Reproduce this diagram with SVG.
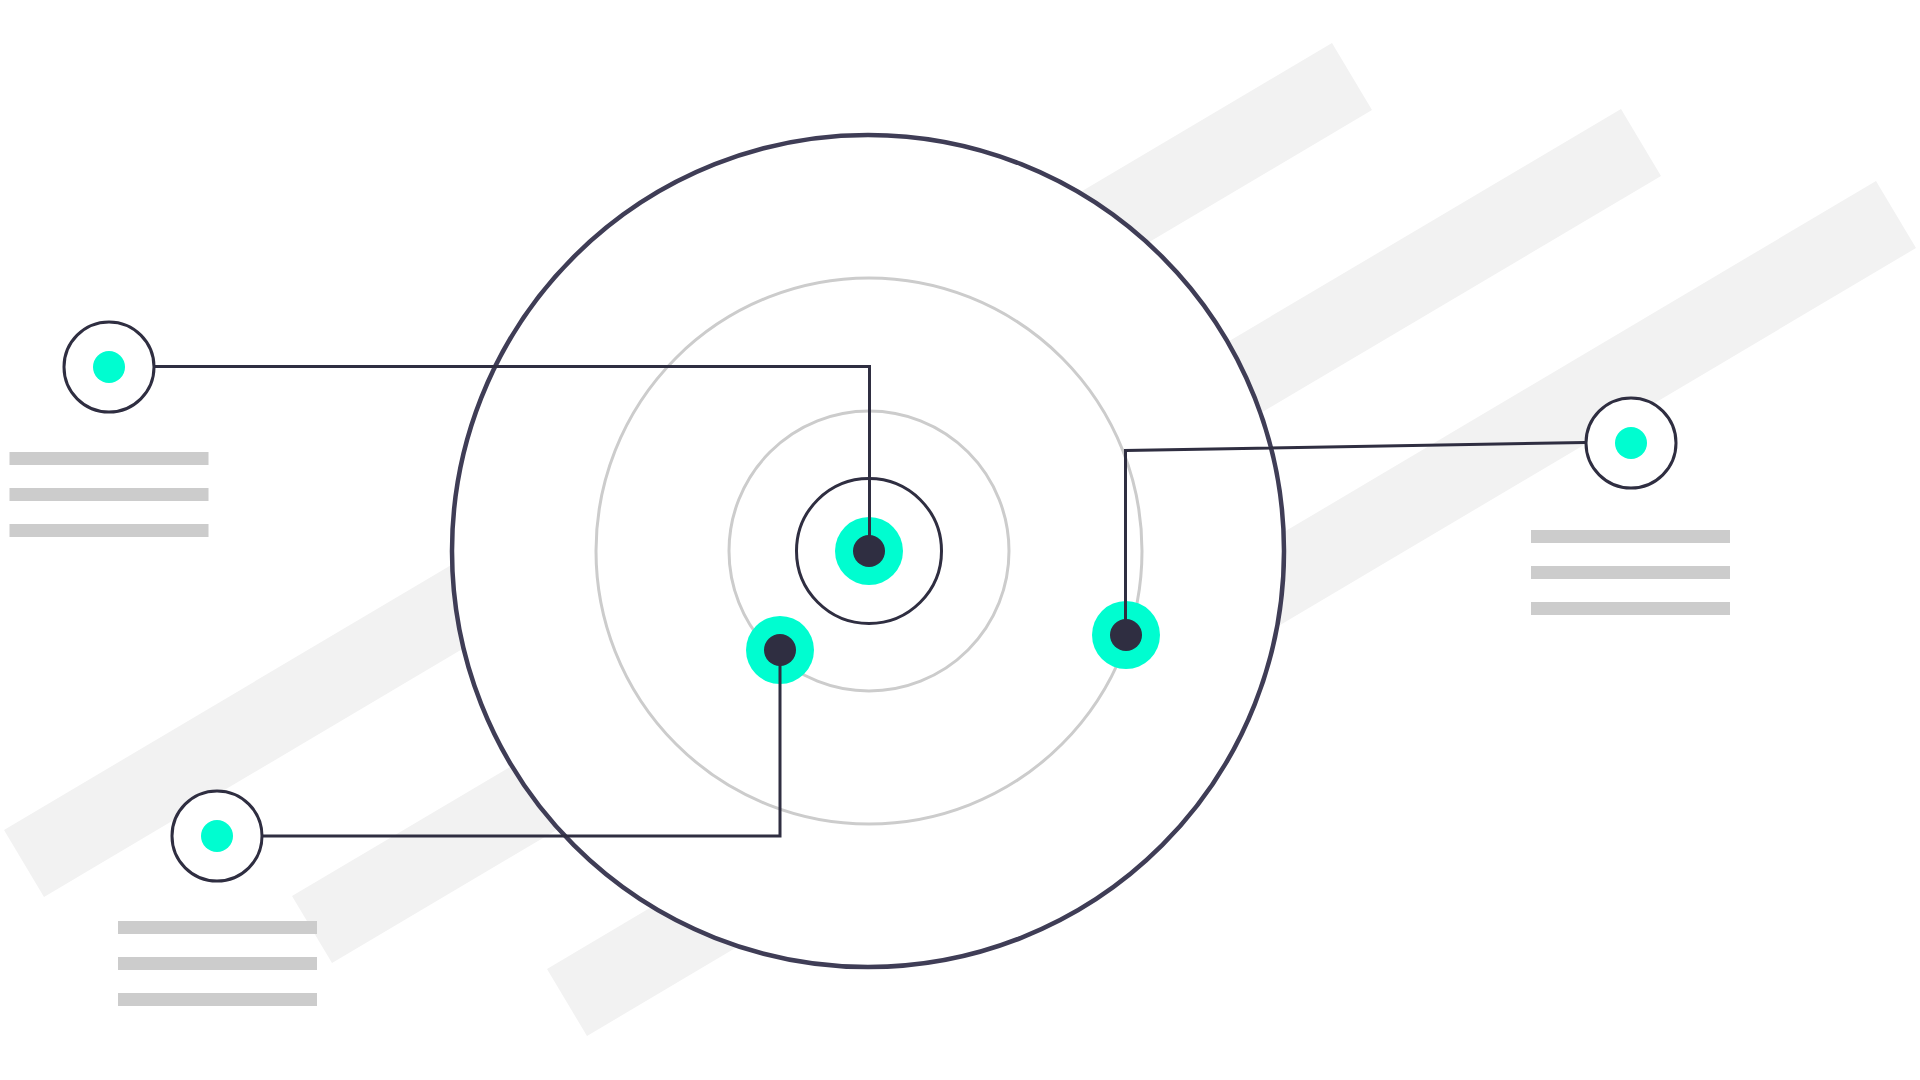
<svg xmlns="http://www.w3.org/2000/svg" width="1920" height="1080" viewBox="0 0 1920 1080">
  <style>
    .stripe { fill: #f2f2f2; }
    .bar { fill: #cccccc; }
    .ring { fill: none; stroke: #cccccc; stroke-width: 3; }
    .node { fill: #ffffff; stroke: #2f2e41; stroke-width: 3; }
    .teal { fill: #00fdd0; }
    .dark { fill: #2f2e41; }
    .wire { fill: none; stroke: #2f2e41; stroke-width: 3; stroke-linejoin: miter; }
  </style>
  <rect width="1920" height="1080" fill="#ffffff"/>
  <g id="stripes">
    <polygon class="stripe" points="4,830 1332,43 1372,110 44,897"/>
    <polygon class="stripe" points="292,896 1621,109 1661,176 332,963"/>
    <polygon class="stripe" points="547,969 1876,181 1916,248 587,1036"/>
  </g>
  <g id="target">
    <circle cx="868" cy="551" r="416" fill="#ffffff" stroke="#3f3d56" stroke-width="4.5"/>
    <circle class="ring" cx="869" cy="551" r="273"/>
    <circle class="ring" cx="869" cy="551" r="140"/>
    <circle class="node" cx="869" cy="551" r="72.5"/>
  </g>
  <g id="dot-center">
    <circle class="teal" cx="869" cy="551" r="34"/>
  </g>
  <g id="dot-lower">
    <circle class="teal" cx="780" cy="650" r="34"/>
  </g>
  <g id="dot-right">
    <circle class="teal" cx="1126" cy="635" r="34"/>
  </g>
  <g id="connectors">
    <polyline class="wire" points="155,366.5 869.5,366.5 869.5,551"/>
    <polyline class="wire" points="263,836 780,836 780,650"/>
    <polyline class="wire" points="1585,442.5 1125.5,450.5 1125.5,635"/>
  </g>
  <g id="dot-centers">
    <circle class="dark" cx="869" cy="551" r="16"/>
    <circle class="dark" cx="780" cy="650" r="16"/>
    <circle class="dark" cx="1126" cy="635" r="16"/>
  </g>
  <g id="node-top-left">
    <circle class="node" cx="109" cy="367" r="45"/>
    <circle class="teal" cx="109" cy="367" r="16"/>
    <rect class="bar" x="9.5" y="452" width="199" height="13"/>
    <rect class="bar" x="9.5" y="488" width="199" height="13"/>
    <rect class="bar" x="9.5" y="524" width="199" height="13"/>
  </g>
  <g id="node-bottom-left">
    <circle class="node" cx="217" cy="836" r="45"/>
    <circle class="teal" cx="217" cy="836" r="16"/>
    <rect class="bar" x="118" y="921" width="199" height="13"/>
    <rect class="bar" x="118" y="957" width="199" height="13"/>
    <rect class="bar" x="118" y="993" width="199" height="13"/>
  </g>
  <g id="node-right">
    <circle class="node" cx="1631" cy="443" r="45"/>
    <circle class="teal" cx="1631" cy="443" r="16"/>
    <rect class="bar" x="1531" y="530" width="199" height="13"/>
    <rect class="bar" x="1531" y="566" width="199" height="13"/>
    <rect class="bar" x="1531" y="602" width="199" height="13"/>
  </g>
</svg>
